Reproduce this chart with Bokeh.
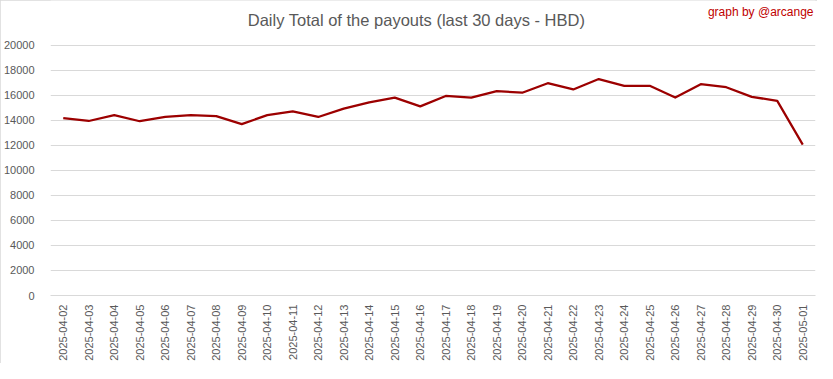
import math
from bokeh.plotting import figure
from bokeh.models import FactorRange, Range1d, FixedTicker, Label
from bokeh.embed import file_html
from bokeh.resources import INLINE

dates = ["2025-04-02", "2025-04-03", "2025-04-04", "2025-04-05", "2025-04-06",
         "2025-04-07", "2025-04-08", "2025-04-09", "2025-04-10", "2025-04-11",
         "2025-04-12", "2025-04-13", "2025-04-14", "2025-04-15", "2025-04-16",
         "2025-04-17", "2025-04-18", "2025-04-19", "2025-04-20", "2025-04-21",
         "2025-04-22", "2025-04-23", "2025-04-24", "2025-04-25", "2025-04-26",
         "2025-04-27", "2025-04-28", "2025-04-29", "2025-04-30", "2025-05-01"]
payouts = [14180, 13950, 14420, 13930, 14270, 14420, 14340, 13700, 14420, 14710,
           14270, 14940, 15430, 15820, 15120, 15950, 15820, 16340, 16210, 16970,
           16470, 17300, 16760, 16760, 15820, 16890, 16650, 15880, 15560, 12060]
y_ticks = [0, 2000, 4000, 6000, 8000, 10000, 12000, 14000, 16000, 18000, 20000]

title_text = "Daily Total of the payouts (last 30 days - HBD)"
credit_text = "graph by @arcange"

FONT = "Liberation Sans"
GRAY = "#595959"
GRID = "#d9d9d9"

W, H = 817, 363
BORDER_BOTTOM = 60
FRAME_H = H - BORDER_BOTTOM          # frame reaches the top edge
AXIS_H = 257                          # pixels between 0 and 20000
Y_TOP_TICK = 20000
PX = Y_TOP_TICK / AXIS_H              # data units per pixel

p = figure(width=W, height=H, output_backend="svg", toolbar_location=None,
           x_range=FactorRange(*dates, range_padding=0),
           y_range=Range1d(0, PX * FRAME_H),
           min_border_left=50, min_border_right=2, min_border_top=0,
           min_border_bottom=BORDER_BOTTOM,
           background_fill_color="white", border_fill_color="white")
p.outline_line_color = None
p.styles = {"outline": "1px solid #d9d9d9", "outline-offset": "-1px"}

p.line(x=dates, y=payouts, line_color="#9c0000", line_width=2.25, line_join="round")

# y axis
p.yaxis.ticker = FixedTicker(ticks=y_ticks)
p.yaxis.axis_line_color = None
p.yaxis.major_tick_line_color = None
p.yaxis.minor_tick_line_color = None
p.yaxis.major_label_text_font = FONT
p.yaxis.major_label_text_font_size = "11px"
p.yaxis.major_label_text_color = GRAY
p.yaxis.major_label_standoff = 10

# x axis
p.xaxis.axis_line_color = GRID
p.xaxis.major_tick_line_color = None
p.xaxis.minor_tick_line_color = None
p.xaxis.major_label_orientation = math.pi / 2
p.xaxis.major_label_text_font = FONT
p.xaxis.major_label_text_font_size = "11px"
p.xaxis.major_label_text_color = GRAY
p.xaxis.major_label_standoff = 3

p.xgrid.grid_line_color = None
p.ygrid.grid_line_color = GRID
p.ygrid.grid_line_width = 1

p.add_layout(Label(x=366, x_units="screen", y=Y_TOP_TICK + 26 * PX, y_units="data",
                   text=title_text, text_align="center", text_baseline="middle",
                   text_font=FONT, text_font_size="16.5px", text_color=GRAY))
p.add_layout(Label(x=763, x_units="screen", y=Y_TOP_TICK + 34 * PX, y_units="data",
                   text=credit_text, text_align="right", text_baseline="middle",
                   text_font=FONT, text_font_size="12px", text_color="#c00000"))

open("out.html", "w").write(file_html(p, INLINE))
